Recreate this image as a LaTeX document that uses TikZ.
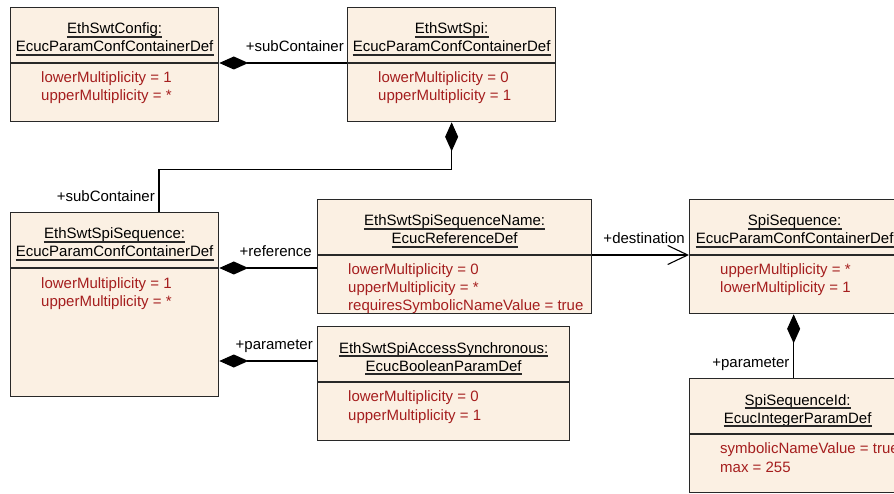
\documentclass[tikz,border=0pt]{standalone}
\usepackage{fontspec}
\setmainfont{Liberation Sans}
\usetikzlibrary{arrows.meta,calc}
\definecolor{boxfill}{RGB}{251,240,227}
\definecolor{attrred}{RGB}{165,30,30}
\definecolor{edgegray}{RGB}{40,40,40}
\newcommand\umltitle[3]{%
  \node[titletext] (#1) at #2 {#3};
  \draw[edgegray, line width=1.1pt] ([yshift=-3pt]#1.base west) -- ([yshift=-3pt]#1.base east);}
\newcommand\umlattr[3]{\node[attrtext] (#1) at #2 {#3};}
\newcommand\umldiv[1]{\draw[edgegray, line width=1.1pt] ($(#1.north west)+(0,56)$) -- ($(#1.north east)+(0,56)$);}
\begin{document}
\begin{tikzpicture}[x=1pt,y=-1pt,
  every node/.style={font=\fontsize{15}{18.5}\selectfont},
  umlbox/.style={draw=edgegray, fill=boxfill, line width=1.3pt, anchor=north west, inner sep=0pt},
  titletext/.style={anchor=base, inner sep=0pt},
  attrtext/.style={anchor=base west, inner sep=0pt, text=attrred},
  lbl/.style={anchor=base east, inner sep=0pt},
  conn/.style={draw=black, line width=1.1pt},
  comp/.style={conn, {Diamond[length=29pt,width=13pt]}-},
  dest/.style={conn, -{Straight Barb[length=20pt,width=19pt,line width=1.1pt]}}]
\clip (0,0) rectangle (894,494);
\useasboundingbox (0,0) rectangle (894,494);
\fill[white] (0,0) rectangle (894,494);

% boxes
\node[umlbox, minimum width=208pt, minimum height=114pt] (b1) at (10,7) {};
\node[umlbox, minimum width=208pt, minimum height=114pt] (b2) at (347,7) {};
\node[umlbox, minimum width=208pt, minimum height=184pt] (b3) at (10,212) {};
\node[umlbox, minimum width=274pt, minimum height=114pt] (b4) at (317,199) {};
\node[umlbox, minimum width=252pt, minimum height=114pt] (b5) at (317,326) {};
\node[umlbox, minimum width=210pt, minimum height=114pt] (b6) at (689,199) {};
\node[umlbox, minimum width=216pt, minimum height=114pt] (b7) at (689,378) {};
\umldiv{b1}\umldiv{b2}\umldiv{b3}\umldiv{b4}\umldiv{b5}\umldiv{b6}\umldiv{b7}

% titles
\umltitle{t1a}{($(b1.north)+(0,27)$)}{EthSwtConfig:\ }
\umltitle{t1b}{($(b1.north)+(0,45)$)}{EcucParamConfContainerDef}
\umltitle{t2a}{($(b2.north)+(0,27)$)}{EthSwtSpi:\ }
\umltitle{t2b}{($(b2.north)+(0,45)$)}{EcucParamConfContainerDef}
\umltitle{t3a}{($(b3.north)+(0,27)$)}{EthSwtSpiSequence:\ }
\umltitle{t3b}{($(b3.north)+(0,45)$)}{EcucParamConfContainerDef}
\umltitle{t4a}{($(b4.north)+(0,27)$)}{EthSwtSpiSequenceName:\ }
\umltitle{t4b}{($(b4.north)+(0,45)$)}{EcucReferenceDef}
\umltitle{t5a}{($(b5.north)+(0,27)$)}{EthSwtSpiAccessSynchronous:\ }
\umltitle{t5b}{($(b5.north)+(0,45)$)}{EcucBooleanParamDef}
\umltitle{t6a}{($(b6.north)+(0,27)$)}{SpiSequence:\ }
\umltitle{t6b}{($(b6.north)+(0,45)$)}{EcucParamConfContainerDef}
\umltitle{t7a}{($(b7.north)+(0,27)$)}{SpiSequenceId:\ }
\umltitle{t7b}{($(b7.north)+(0,45)$)}{EcucIntegerParamDef}

% attributes
\umlattr{a1a}{($(b1.north west)+(31,75.5)$)}{lowerMultiplicity = 1}
\umlattr{a1b}{($(b1.north west)+(31,94)$)}{upperMultiplicity = *}
\umlattr{a2a}{($(b2.north west)+(31,75.5)$)}{lowerMultiplicity = 0}
\umlattr{a2b}{($(b2.north west)+(31,94)$)}{upperMultiplicity = 1}
\umlattr{a3a}{($(b3.north west)+(31,76.5)$)}{lowerMultiplicity = 1}
\umlattr{a3b}{($(b3.north west)+(31,95)$)}{upperMultiplicity = *}
\umlattr{a4a}{($(b4.north west)+(31,75.5)$)}{lowerMultiplicity = 0}
\umlattr{a4b}{($(b4.north west)+(31,94)$)}{upperMultiplicity = *}
\umlattr{a4c}{($(b4.north west)+(31,112)$)}{requiresSymbolicNameValue = true}
\umlattr{a5a}{($(b5.north west)+(31,75.5)$)}{lowerMultiplicity = 0}
\umlattr{a5b}{($(b5.north west)+(31,94)$)}{upperMultiplicity = 1}
\umlattr{a6a}{($(b6.north west)+(31,75.5)$)}{upperMultiplicity = *}
\umlattr{a6b}{($(b6.north west)+(31,94)$)}{lowerMultiplicity = 1}
\umlattr{a7a}{($(b7.north west)+(31,75.5)$)}{symbolicNameValue = true}
\umlattr{a7b}{($(b7.north west)+(31,94)$)}{max = 255}

% connectors
\coordinate (k1) at ($(b1.north east)+(0,56)$);
\draw[comp] (k1) -- (k1 -| b2.west);
\node[lbl] (l1) at ($(b2.north west)+(-3,45)$) {+subContainer};

\coordinate (k2) at ($(b3.north west)+(149,0)$);
\draw[comp] (b2.south) -- ++(0,47) -| (k2);
\node[lbl] (l2) at ($(k2)+(-4,-10)$) {+subContainer};

\coordinate (k3) at ($(b3.north east)+(0,56)$);
\draw[comp] (k3) -- (k3 -| b4.west);
\node[lbl] (l3) at ($(b4.west |- k3)+(-5,-11)$) {+reference};

\coordinate (k4) at ($(b5.north west)+(0,35)$);
\draw[comp] (k4 -| b3.east) -- (k4);
\node[lbl] (l4) at ($(k4)+(-4,-12)$) {+parameter};

\coordinate (k5) at ($(b4.north east)+(0,56)$);
\draw[dest] (k5) -- (k5 -| b6.west);
\node[lbl] (l5) at ($(b6.west |- k5)+(-4,-11)$) {+destination};

\coordinate (k6) at ($(b6.south)+(-1,0)$);
\draw[comp] (k6) -- (k6 |- b7.north);
\node[lbl] (l6) at ($(k6 |- b7.north)+(-4,-11)$) {+parameter};
\end{tikzpicture}
\end{document}
